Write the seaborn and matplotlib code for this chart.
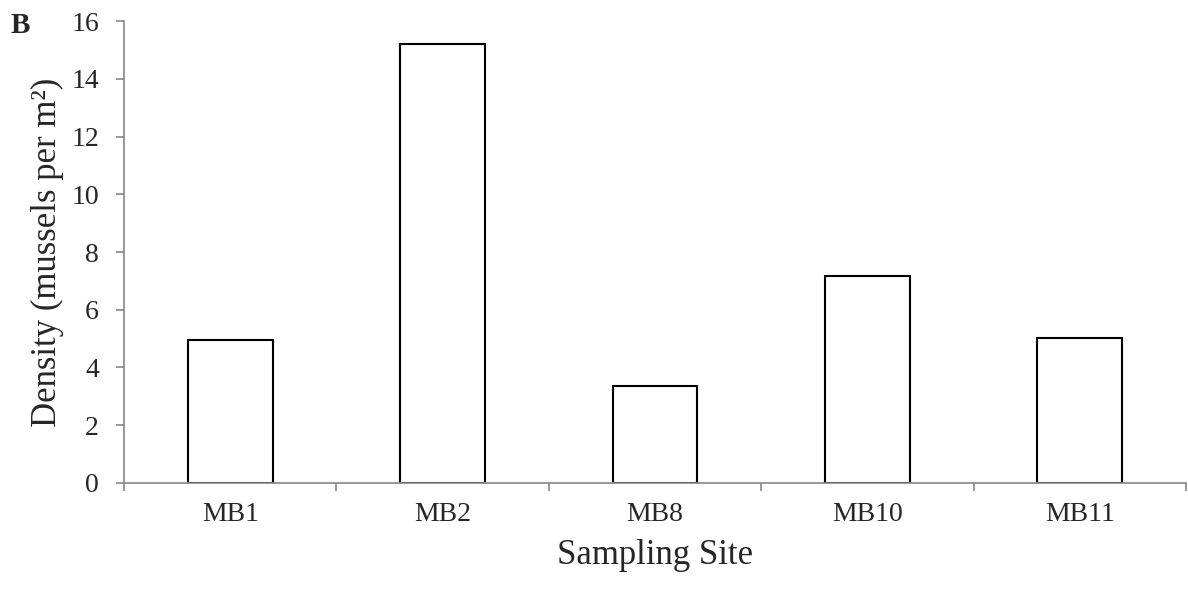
import pandas as pd
import seaborn as sns
import matplotlib.pyplot as plt

# mussel density per sampling site
sites = ["MB1", "MB2", "MB8", "MB10", "MB11"]
density = [4.95, 15.22, 3.36, 7.16, 5.02]
y_ticks = [0, 2, 4, 6, 8, 10, 12, 14, 16]

df = pd.DataFrame({"site": sites, "density": density})

sns.set_style("white")
plt.rcParams["font.family"] = ["Liberation Serif", "DejaVu Serif"]

grey = "#868686"

fig = plt.figure(figsize=(11.88, 5.89), dpi=100)
ax = fig.add_axes([0.1044, 0.18, 0.8939, 0.7843])

sns.barplot(data=df, x="site", y="density", order=sites, color="white",
            edgecolor="black", linewidth=1.5, width=0.4, ax=ax)

ax.set_ylim(0, 16)
ax.set_yticks(y_ticks)
ax.set_xlim(-0.5, len(sites) - 0.5)

# x ticks sit between categories, labels at the centres
ax.set_xticks([i - 0.5 for i in range(len(sites) + 1)], minor=False)
ax.set_xticklabels([""] * (len(sites) + 1))
ax.set_xticks(range(len(sites)), minor=True)
ax.set_xticklabels(sites, minor=True)
ax.tick_params(axis="x", which="minor", bottom=False, length=0, pad=14,
               labelsize=20)
ax.tick_params(axis="x", which="major", bottom=True, direction="out",
               length=6, width=1.2, color=grey)
ax.tick_params(axis="y", left=True, direction="out", length=6, width=1.2,
               color=grey, pad=12, labelsize=20)

for side in ["top", "right"]:
    ax.spines[side].set_visible(False)
for side in ["left", "bottom"]:
    ax.spines[side].set_color(grey)
    ax.spines[side].set_linewidth(1.2)

ax.set_xlabel("Sampling Site", fontsize=25, labelpad=8)
ax.set_ylabel("Density (mussels per m²)", fontsize=25, labelpad=5)

fig.text(0.009, 0.957, "B", fontsize=21, fontweight="bold", va="center")

fig.savefig("out.png", dpi=100)
